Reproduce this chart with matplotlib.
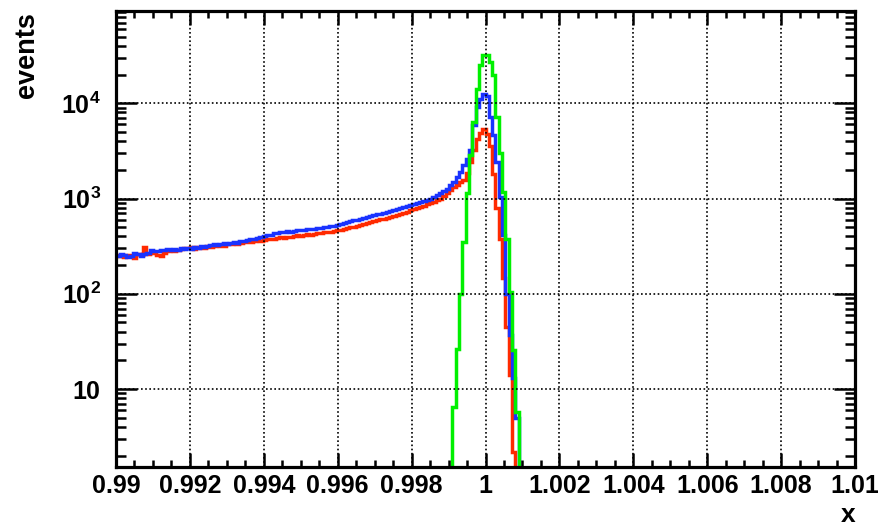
import numpy as np
import matplotlib
matplotlib.use("Agg")
import matplotlib.pyplot as plt
from matplotlib.ticker import MultipleLocator, FixedLocator, LogLocator, NullFormatter, FixedFormatter

# ---------------- data ----------------
bin_width = 0.00009          # histogram bin width
bin_index_range = (-112, 112)  # bins relative to x = 1

red_first_bin = -112
red_counts = [
    245, 255, 248, 242, 258, 250, 240, 262, 255, 310,
    262, 270, 265, 258, 252, 268, 280, 285, 282, 290,
    295, 305, 300, 308, 298, 312, 306, 300, 318, 310,
    315, 325, 320, 318, 330, 335, 340, 330, 345, 350,
    352, 348, 360, 365, 362, 370, 375, 372, 380, 385,
    390, 388, 398, 395, 405, 410, 406, 415, 420, 418,
    425, 432, 430, 440, 445, 450, 458, 464, 470, 478,
    490, 500, 508, 515, 525, 540, 552, 565, 575, 590,
    605, 615, 630, 645, 660, 675, 690, 710, 730, 750,
    770, 790, 815, 840, 870, 900, 930, 965, 1000, 1060,
    1130, 1220, 1320, 1400, 1480, 1580, 1850, 2400, 3200, 4200,
    4900, 5430, 4800, 3600, 1800, 800, 380, 145, 45, 14, 2.2,
]

blue_first_bin = -112
blue_counts = [
    255, 250, 262, 258, 245, 252, 266, 260, 248, 262,
    270, 285, 280, 278, 290, 285, 292, 288, 295, 290,
    300, 296, 305, 298, 310, 302, 315, 308, 318, 322,
    330, 325, 335, 340, 332, 345, 350, 342, 355, 362,
    368, 375, 372, 385, 392, 400, 412, 418, 430, 436,
    440, 445, 452, 450, 458, 462, 470, 468, 476, 480,
    482, 488, 496, 500, 505, 512, 520, 524, 540, 556,
    570, 582, 590, 600, 612, 625, 640, 655, 668, 680,
    693, 705, 718, 735, 750, 770, 790, 810, 830, 850,
    870, 895, 915, 940, 965, 990, 1040, 1080, 1130, 1200,
    1270, 1400, 1490, 1690, 1900, 2240, 2630, 3220, 5880, 9150,
    11200, 12600, 11800, 7200, 4630, 2430, 1040, 411, 100, 37, 13, 5,
]

green_first_bin = -10
green_counts = [
    6.5, 26.5, 100, 350, 1130, 2850, 6400, 14000, 25000, 32000,
    32000, 27000, 19700, 7200, 2970, 1170, 380, 104, 25.5, 5.7,
]

x_ticks = [0.99, 0.992, 0.994, 0.996, 0.998, 1.0, 1.002, 1.004, 1.006, 1.008, 1.01]
x_tick_labels = ["0.99", "0.992", "0.994", "0.996", "0.998", "1",
                 "1.002", "1.004", "1.006", "1.008", "1.01"]
y_ticks = [10, 100, 1000, 10000]
y_tick_labels = [r"$\mathbf{10}$", r"$\mathbf{10^{2}}$", r"$\mathbf{10^{3}}$", r"$\mathbf{10^{4}}$"]

# ---------------- style ----------------
plt.rcParams["font.family"] = ["Liberation Sans", "DejaVu Sans"]
plt.rcParams["font.weight"] = "bold"
plt.rcParams["mathtext.fontset"] = "custom"
plt.rcParams["mathtext.rm"] = "Liberation Sans:bold"
plt.rcParams["mathtext.bf"] = "Liberation Sans:bold"
plt.rcParams["mathtext.it"] = "Liberation Sans:bold"

fig = plt.figure(figsize=(8.79, 5.29), dpi=100)
ax = fig.add_axes([116 / 879, 1 - 467 / 529, (855 - 116) / 879, (467 - 11) / 529])

lo, hi = bin_index_range
edges = 1.0 + bin_width * np.arange(lo, hi + 1)
n_bins = hi - lo


def full_counts(first, counts):
    arr = np.full(n_bins, 1e-3)
    start = first - lo
    arr[start:start + len(counts)] = counts
    return arr


series = [
    (red_first_bin, red_counts, "#ff2a00"),
    (blue_first_bin, blue_counts, "#1a33ff"),
    (green_first_bin, green_counts, "#00f000"),
]
for first, counts, color in series:
    ax.stairs(full_counts(first, counts), edges, baseline=None,
              color=color, linewidth=2.5)

ax.set_yscale("log")
ax.set_xlim(0.99, 1.01)
ax.set_ylim(1.52, 9.3e4)

ax.xaxis.set_major_locator(FixedLocator(x_ticks))
ax.xaxis.set_major_formatter(FixedFormatter(x_tick_labels))
ax.xaxis.set_minor_locator(MultipleLocator(0.0005))
ax.yaxis.set_major_locator(FixedLocator(y_ticks))
ax.yaxis.set_major_formatter(FixedFormatter(y_tick_labels))
ax.yaxis.set_minor_locator(LogLocator(base=10, subs=np.arange(2, 10), numticks=20))
ax.yaxis.set_minor_formatter(NullFormatter())

ax.tick_params(axis="both", which="both", direction="in", top=True, right=True,
               width=1.8, colors="black")
ax.tick_params(axis="x", which="major", length=10, labelsize=18, pad=5)
ax.tick_params(axis="x", which="minor", length=5)
ax.tick_params(axis="y", which="major", length=15, labelsize=18, pad=11)
ax.tick_params(axis="y", which="minor", length=7.5)

for sp in ax.spines.values():
    sp.set_linewidth(2.3)

ax.grid(which="major", color="black", linestyle=(0, (1, 1.5)), linewidth=1.2)
ax.set_axisbelow(False)

fig.text(27 / 879, 1 - 12 / 529, "events", rotation=90, ha="center", va="top",
         fontsize=19.5, fontweight="bold")
fig.text(855 / 879, 1 - 527 / 529, "x", ha="right", va="bottom",
         fontsize=19, fontweight="bold")

fig.savefig("out.png", dpi=100, facecolor="white")
